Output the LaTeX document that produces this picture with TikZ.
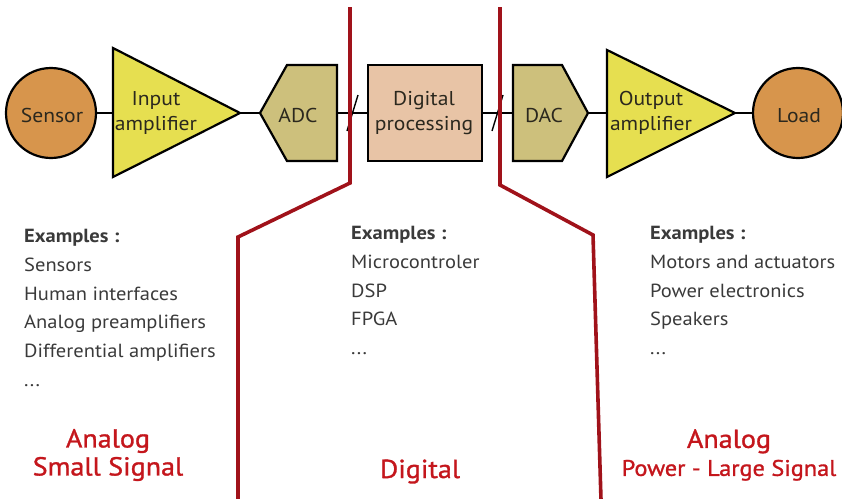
\documentclass[tikz,border=0pt]{standalone}
\usepackage{fontspec}
\setmainfont{PT Sans}[FakeStretch=1.08]
\newfontfamily\semib[FakeBold=1.2,FakeStretch=1.08]{PT Sans}
\definecolor{redline}{HTML}{A0121A}
\definecolor{redtext}{HTML}{C4161C}
\definecolor{sensorfill}{HTML}{D7954C}
\definecolor{ampfill}{HTML}{E6DF50}
\definecolor{convfill}{HTML}{CDC07C}
\definecolor{digfill}{HTML}{E8C4A6}
\definecolor{listgray}{HTML}{3A3A3A}
\definecolor{nodetext}{HTML}{2B281E}
\tikzset{
  blockline/.style={draw=black, line width=2.2pt, line join=miter},
  conn/.style={draw=black, line width=2pt},
  slashmark/.style={draw=black, line width=1.4pt},
  border/.style={draw=redline, line width=3.6pt, line join=miter},
  lbl/.style={text=nodetext, font=\fontsize{20}{25}\selectfont, align=center, inner sep=0pt},
  listtxt/.style={text=listgray, font=\fontsize{19}{28.8}\selectfont, align=left, anchor=north west, inner sep=0pt},
  zone/.style={text=redtext, font=\semib\fontsize{26}{28}\selectfont, align=center, inner sep=0pt}
}
\begin{document}
\begin{tikzpicture}[x=1pt,y=-1pt]
\useasboundingbox (0,0) rectangle (842,498);
% blocks
\node[blockline, fill=sensorfill, circle, minimum size=90pt, inner sep=0pt] (sensor) at (51,113) {};
\node[lbl, anchor=base] (sensortxt) at (52,122) {Sensor};

\coordinate (iain) at (113,113);
\coordinate (iaout) at (240,113);
\draw[blockline, fill=ampfill] (113,48) -- (iaout) -- (113,177) -- cycle;
\node[lbl] (iatxt) at (156,113) {Input\\amplifier};

\coordinate (adcin) at (260,113);
\coordinate (adcout) at (337,113);
\draw[blockline, fill=convfill] (adcin) -- (287,65) -- (337,65) -- (337,161) -- (287,161) -- cycle;
\node[lbl, anchor=base] (adctxt) at (298,122) {ADC};

\node[blockline, fill=digfill, rectangle, minimum width=114pt, minimum height=96pt, inner sep=0pt] (dig) at (425,113) {};
\node[lbl] (digtxt) at (424,113) {Digital\\processing};

\coordinate (dacin) at (513,113);
\coordinate (dacout) at (588,113);
\draw[blockline, fill=convfill] (dacin) -- (513,65) -- (562,65) -- (dacout) -- (562,161) -- (513,161) -- cycle;
\node[lbl, anchor=base] (dactxt) at (544,122) {DAC};

\coordinate (oain) at (607,113);
\coordinate (oaout) at (735,113);
\draw[blockline, fill=ampfill] (607,50) -- (oaout) -- (607,177) -- cycle;
\node[lbl] (oatxt) at (651,113) {Output\\amplifier};

\node[blockline, fill=sensorfill, circle, minimum size=90pt, inner sep=0pt] (load) at (798,113) {};
\node[lbl, anchor=base] (loadtxt) at (799,122) {Load};

% connectors
\draw[conn] (sensor.east) -- (iain);
\draw[conn] (iaout) -- (adcin);
\draw[conn] (adcout) -- (dig.west);
\draw[conn] (dig.east) -- (dacin);
\draw[conn] (dacout) -- (oain);
\draw[conn] (oaout) -- (load.west);

% slash marks (bus)
\coordinate (s1a) at (358,95);
\coordinate (s1b) at (347,131);
\coordinate (s2a) at (503,95);
\coordinate (s2b) at (492,131);
\draw[slashmark] (s1a) -- (s1b);
\draw[slashmark] (s2a) -- (s2b);

% red domain borders
\draw[border] (350,7) -- (350,183) -- (238,237) -- (238,500);
\draw[border] (500,7) -- (500,185) -- (593,235) -- (601,500);

% example lists
\node[listtxt] (list1) at (24,229) {\textbf{Examples :}\\Sensors\\Human interfaces\\Analog preamplifiers\\Differential amplifiers\\...};
\node[listtxt] (list2) at (351,226) {\textbf{Examples :}\\Microcontroler\\DSP\\FPGA\\...};
\node[listtxt] (list3) at (650,226) {\textbf{Examples :}\\Motors and actuators\\Power electronics\\Speakers\\...};

% zone labels
\node[zone] (z1) at (108,455) {Analog\\Small Signal};
\node[zone, anchor=base] (z2) at (420,478) {Digital};
\node[zone] (z3) at (729,455) {Analog\\{\fontsize{22.5}{28}\selectfont Power - Large Signal}};
\end{tikzpicture}
\end{document}
